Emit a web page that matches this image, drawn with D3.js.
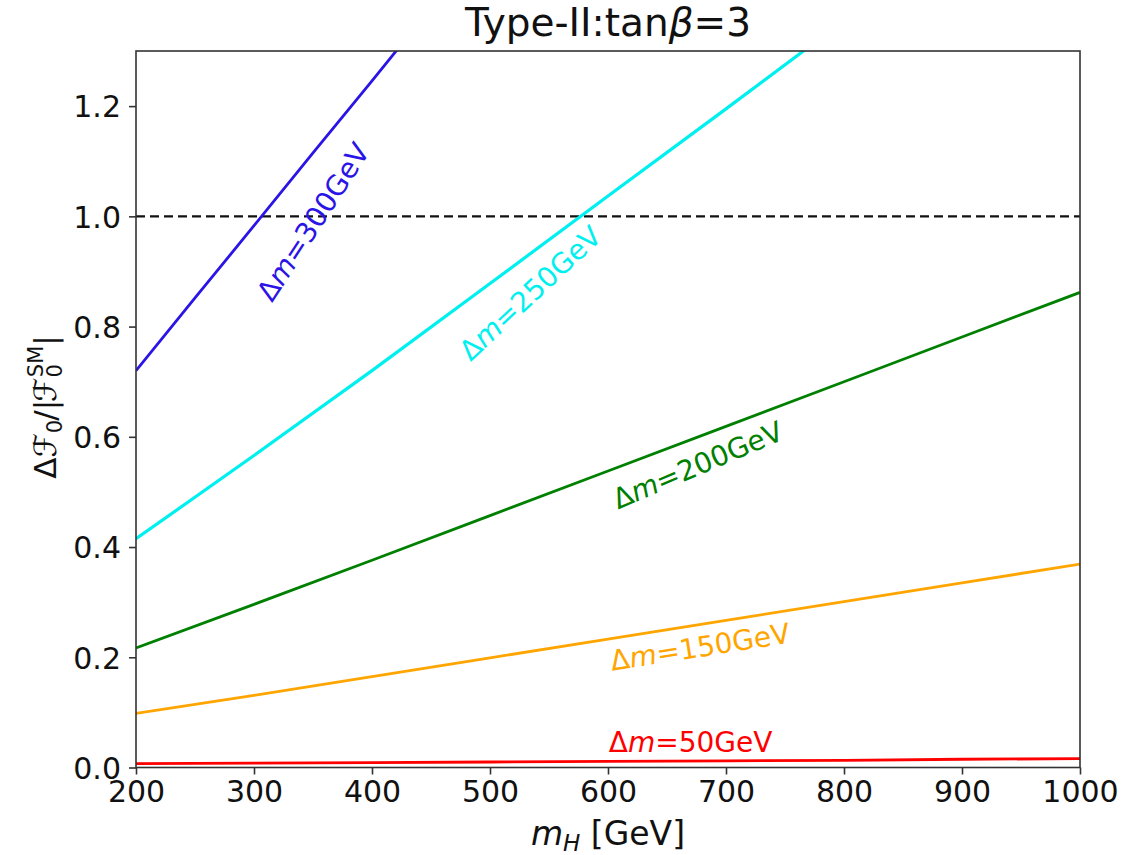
<!DOCTYPE html>
<html>
<head>
<meta charset="utf-8">
<script src="https://cdn.jsdelivr.net/npm/d3@7"></script>
<style>
  body { margin: 0; background: #fff; }
  svg { font-family: "DejaVu Sans", sans-serif; }
</style>
</head>
<body>
<svg width="1143" height="855"></svg>
<script>
// data
let mH = [200, 300, 400, 500, 600, 700, 800, 900, 1000];
let dm50  = [0.007, 0.008, 0.009, 0.010, 0.011, 0.012, 0.013, 0.015, 0.016];
let dm150 = [0.098, 0.131, 0.165, 0.199, 0.233, 0.267, 0.301, 0.335, 0.369];
let dm200 = [0.217, 0.296, 0.376, 0.457, 0.538, 0.619, 0.700, 0.781, 0.862];
let mH250 = [200, 300, 400, 500, 600, 700, 770];
let dm250 = [0.415, 0.566, 0.720, 0.878, 1.037, 1.195, 1.307];
let mH300 = [200, 250, 300, 350, 400, 425];
let dm300 = [0.720, 0.852, 0.983, 1.115, 1.246, 1.312];

let names = ["Δm=50GeV", "Δm=150GeV", "Δm=200GeV", "Δm=250GeV", "Δm=300GeV"];
let colors = ["#ff0000", "#ffa500", "#008000", "#00f0f0", "#2a14e6"];
// where each inline label sits (data coords) and its tilt
let labelMH = [670, 678, 676, 534, 350];
let labelVal = [0.046, 0.219, 0.549, 0.861, 0.99];
let labelAngle = [0, 9, 23, 43, 57];

let xTicks = [200, 300, 400, 500, 600, 700, 800, 900, 1000];
let yTicks = [0.0, 0.2, 0.4, 0.6, 0.8, 1.0, 1.2];

let series = [
  {x: mH, y: dm50},
  {x: mH, y: dm150},
  {x: mH, y: dm200},
  {x: mH250, y: dm250},
  {x: mH300, y: dm300}
];

let svg = d3.select("svg");
let pLeft = 136, pRight = 1080, pTop = 51, pBottom = 767.5;

let x = d3.scaleLinear().domain([200, 1000]).range([pLeft, pRight]);
let y = d3.scaleLinear().domain([0, 1.3]).range([pBottom, pTop]);

svg.append("clipPath").attr("id", "plotclip")
  .append("rect")
  .attr("x", pLeft).attr("y", pTop)
  .attr("width", pRight - pLeft).attr("height", pBottom - pTop);

let plot = svg.append("g").attr("clip-path", "url(#plotclip)");

let lineGen = d3.line()
  .x(d => x(d[0]))
  .y(d => y(d[1]));

// reference line at 1
plot.append("path")
  .attr("d", lineGen([[200, 1.0], [1000, 1.0]]))
  .attr("stroke", "#111")
  .attr("stroke-width", 2.4)
  .attr("stroke-dasharray", "9,5")
  .attr("fill", "none");

plot.selectAll(".curve")
  .data(series)
  .join("path")
    .attr("class", "curve")
    .attr("d", d => lineGen(d.x.map((v, i) => [v, d.y[i]])))
    .attr("stroke", (d, i) => colors[i])
    .attr("stroke-width", (d, i) => i == 3 ? 3.2 : 2.8)
    .attr("fill", "none");

// inline labels
let labels = svg.append("g").selectAll("text")
  .data(names)
  .join("text")
    .attr("transform", (d, i) => "translate(" + x(labelMH[i]) + "," + y(labelVal[i]) + ") rotate(" + (-labelAngle[i]) + ")")
    .attr("text-anchor", "middle")
    .attr("dominant-baseline", "central")
    .attr("font-size", 28)
    .attr("fill", (d, i) => colors[i]);
labels.append("tspan").text("Δ");
labels.append("tspan").attr("font-style", "italic").text("m");
labels.append("tspan").text(d => d.slice(2));

// axes
let xAxis = d3.axisBottom(x).tickValues(xTicks).tickSize(7).tickPadding(6).tickFormat(d3.format("d"));
let yAxis = d3.axisLeft(y).tickValues(yTicks).tickSize(7).tickPadding(8).tickFormat(d3.format(".1f"));

let gx = svg.append("g").attr("transform", "translate(0," + pBottom + ")").call(xAxis);
let gy = svg.append("g").attr("transform", "translate(" + pLeft + ",0)").call(yAxis);
[gx, gy].forEach(g => {
  g.select(".domain").remove();
  g.selectAll("line").attr("stroke", "#333").attr("stroke-width", 1.6);
  g.selectAll("text").attr("font-size", 30).attr("fill", "#111")
    .attr("font-family", "DejaVu Sans");
});
gy.selectAll("text").attr("dy", "0.36em");

// frame
svg.append("rect")
  .attr("x", pLeft).attr("y", pTop)
  .attr("width", pRight - pLeft).attr("height", pBottom - pTop)
  .attr("fill", "none")
  .attr("stroke", "#333")
  .attr("stroke-width", 1.6);

// title
let title = svg.append("text")
  .attr("x", (pLeft + pRight) / 2).attr("y", 36)
  .attr("text-anchor", "middle")
  .attr("font-size", 39)
  .attr("fill", "#111");
title.append("tspan").text("Type-II:tan");
title.append("tspan").attr("font-style", "italic").text("β");
title.append("tspan").text("=3");

// x label
let xl = svg.append("text")
  .attr("x", (pLeft + pRight) / 2).attr("y", 845)
  .attr("text-anchor", "middle")
  .attr("font-size", 33)
  .attr("fill", "#111");
xl.append("tspan").attr("font-style", "italic").text("m");
xl.append("tspan").attr("font-style", "italic").attr("font-size", 23).attr("dy", 6).text("H");
xl.append("tspan").attr("dy", -6).text(" [GeV]");

// y label
let yl = svg.append("text")
  .attr("transform", "translate(56," + 407 + ") rotate(-90)")
  .attr("text-anchor", "middle")
  .attr("font-size", 31)
  .attr("fill", "#111");
yl.append("tspan").text("Δ");
yl.append("tspan").attr("font-style", "italic").text("ℱ");
yl.append("tspan").attr("font-size", 21).attr("dy", 6).text("0");
yl.append("tspan").attr("dy", -6).attr("dx", -1).text("/|");
yl.append("tspan").attr("font-style", "italic").attr("dx", -2).text("ℱ");
yl.append("tspan").attr("font-size", 21).attr("dy", 6).text("0");
yl.append("tspan").attr("font-size", 21).attr("dx", -13).attr("dy", -19).text("SM");
yl.append("tspan").attr("dy", 13).text("|");
</script>
</body>
</html>
